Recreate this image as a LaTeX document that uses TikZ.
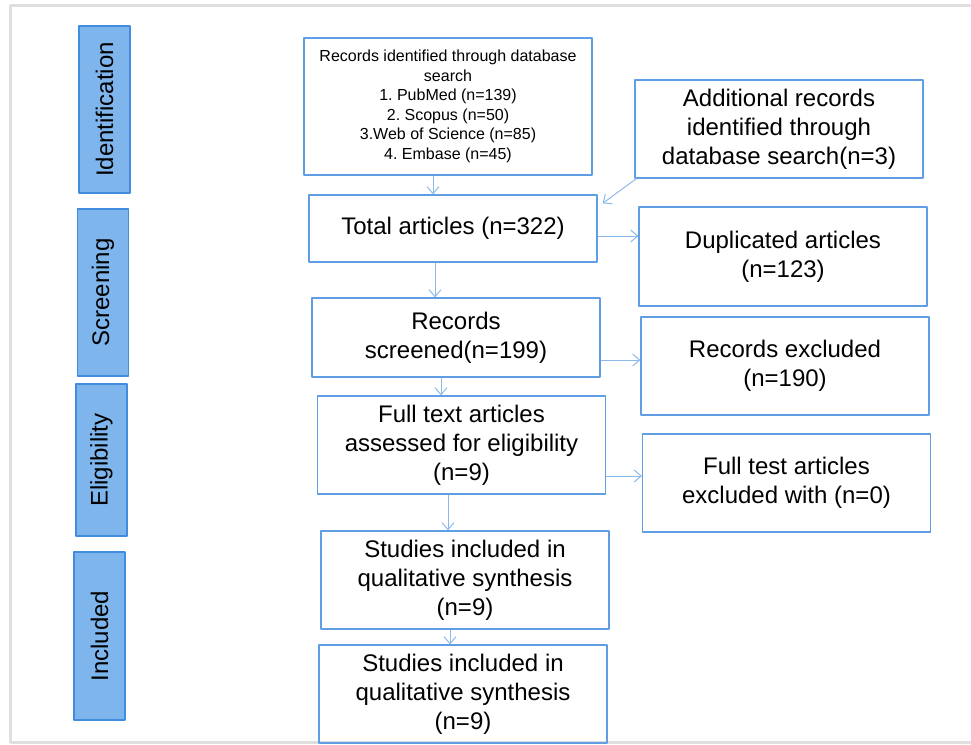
\documentclass[tikz,border=0pt]{standalone}
\usepackage{fontspec}
\setmainfont{Liberation Sans}
\usetikzlibrary{arrows.meta}
\frenchspacing
\definecolor{stagefill}{RGB}{126,181,237}
\definecolor{stageline}{RGB}{66,140,222}
\definecolor{boxline}{RGB}{95,158,228}
\definecolor{arrline}{RGB}{140,185,235}
\begin{document}
\begin{tikzpicture}[x=1pt,y=-1pt, font=\fontsize{24}{29}\selectfont, line join=round,
	stage/.style={draw=stageline, fill=stagefill, line width=1.2pt, rotate=90, inner sep=0pt, minimum height=51},
	box/.style={draw=boxline, line width=1.2pt, align=center, inner sep=0pt, minimum width=288},
	arr/.style={draw=arrline, line width=1pt, -{Straight Barb[length=7pt,width=12pt]}}]
	\useasboundingbox (0,0) rectangle (971,744);
	% frame
	\draw[gray!25, line width=3pt] (971,5.5)--(10.5,5.5)--(10.5,742.5)--(971,742.5);
	% stages
	\foreach \n/\t/\x/\y/\h in {ide/Identification/104.5/109.5/167, scrn/Screening/103/292.5/167, eli/Eligibility/101.5/460/152, inc/Included/99.5/636/168}
		\node[stage, minimum width=\h] (\n) at (\x,\y) {\t};
	% boxes
	\node[box, minimum height=137, font=\fontsize{16}{19.5}\selectfont] (rec) at (448,106.5) {Records identified through database\\search\\1. PubMed (n=139)\\2. Scopus (n=50)\\3.Web of Science (n=85)\\4. Embase (n=45)};
	\node[box, minimum height=98] (add) at (779,129) {Additional records\\identified through\\database search(n=3)};
	\node[box, minimum height=67] (tot) at (453,228.5) {Total articles (n=322)};
	\node[box, minimum height=99] (dup) at (783,256.5) {Duplicated articles\\(n=123)};
	\node[box, minimum height=79] (scr) at (456,337.5) {Records\\screened(n=199)};
	\node[box, minimum height=98] (exc) at (785,366) {Records excluded\\(n=190)};
	\node[box, minimum height=98] (ful) at (461.5,445) {Full text articles\\assessed for eligibility\\(n=9)};
	\node[box, minimum height=98] (fte) at (786.5,483) {Full test articles\\excluded with (n=0)};
	\node[box, minimum height=98] (st1) at (465,580) {Studies included in\\qualitative synthesis\\(n=9)};
	\node[box, minimum height=98] (st2) at (463,694) {Studies included in\\qualitative synthesis\\(n=9)};
	% arrows
	\draw[arr] ([xshift=-15pt]rec.south) -- ([xshift=-15pt]rec.south |- tot.north);
	\draw[arr] ([xshift=2pt]add.south west) -- ([xshift=5pt,yshift=-9pt]tot.north east);
	\draw[arr] ([yshift=-7.5pt]tot.east) -- ([yshift=-7.5pt]tot.east -| dup.west);
	\draw[arr] ([xshift=-18pt]tot.south) -- ([xshift=-18pt]tot.south |- scr.north);
	\draw[arr] ([yshift=-22.5pt]scr.east) -- ([yshift=-22.5pt]scr.east -| exc.west);
	\draw[arr] ([xshift=-15pt]scr.south) -- ([xshift=-15pt]scr.south |- ful.north);
	\draw[arr] ([yshift=-31pt]ful.east) -- ([yshift=-31pt]ful.east -| fte.west);
	\draw[arr] ([xshift=-13.5pt]ful.south) -- ([xshift=-13.5pt]ful.south |- st1.north);
	\draw[arr] ([xshift=-15pt]st1.south) -- ([xshift=-15pt]st1.south |- st2.north);
\end{tikzpicture}
\end{document}
